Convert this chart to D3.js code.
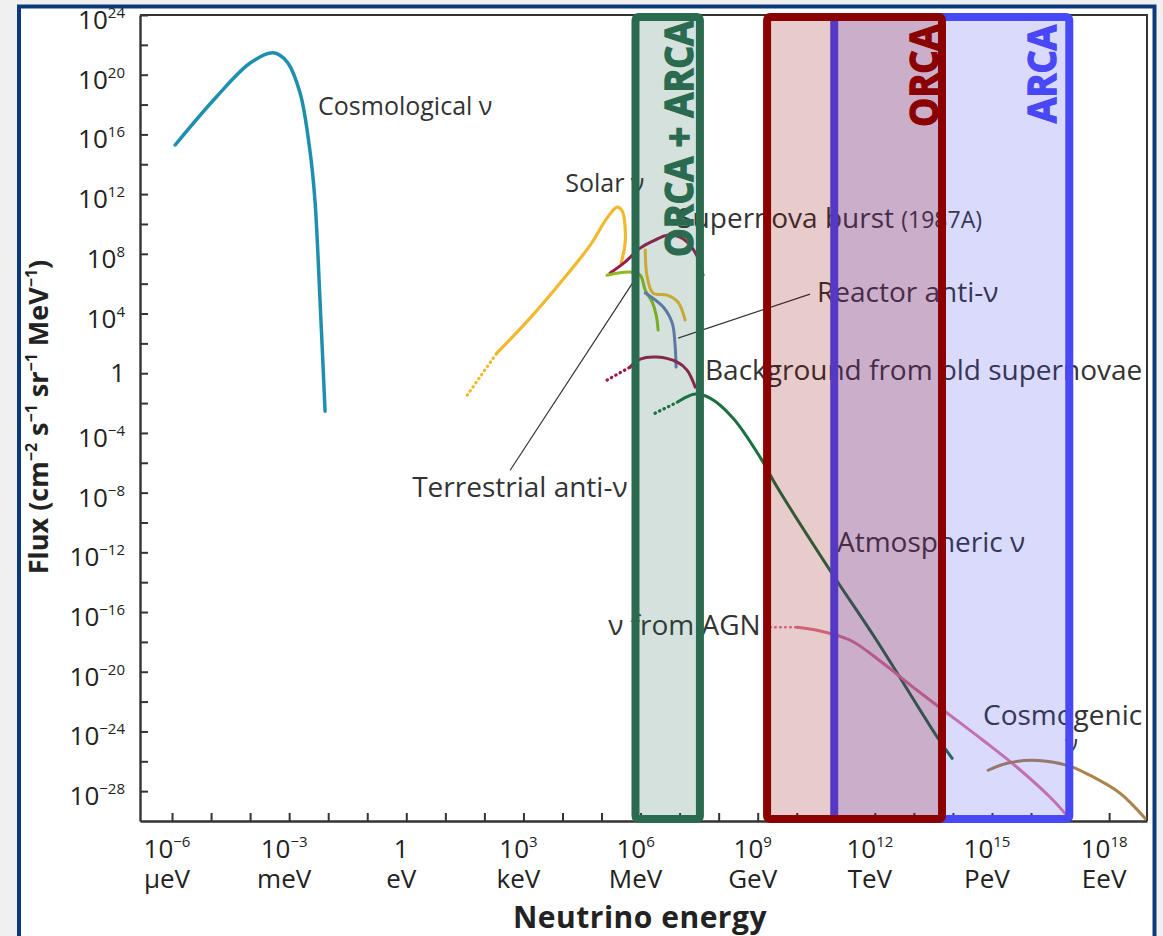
<!DOCTYPE html>
<html>
<head>
<meta charset="utf-8">
<script src="https://cdn.jsdelivr.net/npm/d3@7"></script>
<style>
  body { margin: 0; background: #f0f0f0; }
  svg { display: block; }
  text { font-family: "Open Sans", sans-serif; }
</style>
</head>
<body>
<div id="chart"></div>
<script>
// page size and plot frame
const width = 1163;
const height = 936;
const margin = {left: 140, right: 16, top: 15, bottom: 115};

// axes, everything in log10 (energy in eV, flux in cm-2 s-1 sr-1 MeV-1)
const xDomainExp = [-6.82, 18.97];
const yDomainExp = [-30, 24];
const xTickExps = d3.range(-6, 19);
const xLabelExps = [-6, -3, 0, 3, 6, 9, 12, 15, 18];
const xUnits = ["μeV", "meV", "eV", "keV", "MeV", "GeV", "TeV", "PeV", "EeV"];
const yTickExps = d3.range(-28, 25, 2);
const yLabelExps = d3.range(24, -29, -4);

// curves: [log10 E, log10 flux]
const cosmological = [[-5.92,15.29],[-4.86,18.52],[-4.0,20.78],[-3.41,21.47],[-3.05,20.85],[-2.72,18.77],[-2.47,14.95],[-2.34,11.60],[-2.21,4.90],[-2.08,-2.54]];
const solarDotted = [[1.56,-1.47],[2.32,1.35]];
const solar = [[2.32,1.35],[3.17,3.69],[3.94,6.04],[4.71,8.58],[5.14,10.39],[5.40,11.13],[5.53,10.87],[5.60,9.93],[5.60,8.58],[5.50,7.38]];
const solarHigh = [[6.12,8.25],[6.17,6.44],[6.32,5.37],[6.68,5.23],[6.96,4.76],[7.14,3.56]];
const supernova = [[5.22,6.71],[5.60,7.44],[5.99,8.38],[6.37,8.92],[6.68,9.25],[7.01,9.12],[7.27,8.58],[7.47,7.71],[7.60,6.57]];
const terrestrial = [[5.14,6.57],[5.73,6.78],[5.99,6.57],[6.12,5.57],[6.30,4.76],[6.40,3.89],[6.45,2.89]];
const reactor = [[6.12,5.37],[6.58,4.43],[6.81,3.36],[6.88,2.02],[6.91,0.41]];
const backgroundDotted = [[5.14,-0.46],[5.73,0.41]];
const background = [[5.73,0.41],[5.99,0.94],[6.42,1.08],[6.94,0.74],[7.19,0.21],[7.40,-0.93]];
const atmosphericDotted = [[6.37,-2.68],[6.94,-1.94]];
const atmospheric = [[6.94,-1.94],[7.17,-1.60],[7.40,-1.40],[7.78,-1.67],[8.37,-3.01],[9.06,-5.62],[9.50,-7.64],[10.85,-13.20],[12.06,-17.96],[13.60,-24.39],[13.98,-25.80]];
const agnDotted = [[9.32,-17.02],[10.01,-17.02]];
const agn = [[10.01,-17.02],[10.52,-17.22],[11.37,-17.89],[12.21,-19.43],[13.08,-21.24],[13.93,-22.92],[14.77,-24.59],[15.64,-26.40],[16.49,-28.41],[16.87,-29.49]];
const cosmogenic = [[14.90,-26.60],[15.39,-26.13],[16.05,-25.93],[16.93,-26.27],[17.51,-26.94],[18.28,-28.14],[18.92,-29.82]];

// text labels: [text, log10 E, log10 flux]
const labels = [
  ["Cosmological ν", -2.26, 17.30],
  ["Solar ν", 4.07, 12.16],
  ["Reactor anti-ν", 10.52, 4.76],
  ["Background from old supernovae", 7.65, -0.46],
  ["Terrestrial anti-ν", 0.15, -8.31],
  ["Atmospheric ν", 11.03, -11.99],
  ["ν from AGN", 5.17, -17.55],
  ["Cosmogenic", 14.77, -23.59],
  ["ν", 16.87, -25.35]
];
const leaders = [
  [[2.66,-6.50],[5.81,6.10]],
  [[6.96,2.35],[10.34,5.30]]
];

// detector ranges, log10 E
const orcaArca = [5.87, 7.52];
const orca = [9.24, 13.72];
const arca = [10.96, 16.98];

const svg = d3.select("#chart")
  .append("svg")
  .attr("width", width)
  .attr("height", height);

// blue outer frame
svg.append("rect")
  .attr("x", 19).attr("y", 6.5)
  .attr("width", 1135.5).attr("height", 980)
  .attr("fill", "white")
  .attr("stroke", "#0b3a7c")
  .attr("stroke-width", 4);

const x = d3.scaleLog()
  .domain(xDomainExp.map(e => 10 ** e))
  .range([margin.left, width - margin.right]);
const y = d3.scaleLog()
  .domain(yDomainExp.map(e => 10 ** e))
  .range([height - margin.bottom, margin.top]);

const px = e => x(10 ** e);
const py = e => y(10 ** e);

const line = d3.line()
  .x(d => px(d[0]))
  .y(d => py(d[1]))
  .curve(d3.curveCatmullRom.alpha(0.5));

// plot frame top / right
svg.append("path")
  .attr("d", `M${margin.left},${margin.top}H${width - margin.right}V${height - margin.bottom}`)
  .attr("fill", "none")
  .attr("stroke", "#333")
  .attr("stroke-width", 2);

// axes with inward ticks
const xAxis = svg.append("g")
  .attr("transform", `translate(0,${height - margin.bottom})`)
  .call(d3.axisBottom(x)
    .tickValues(xTickExps.map(e => 10 ** e))
    .tickSize(-8).tickSizeOuter(0).tickFormat(""));
const yAxis = svg.append("g")
  .attr("transform", `translate(${margin.left},0)`)
  .call(d3.axisLeft(y)
    .tickValues(yTickExps.map(e => 10 ** e))
    .tickSize(-8).tickSizeOuter(0).tickFormat(""));
[xAxis, yAxis].forEach(g => {
  g.select(".domain").attr("stroke", "#333").attr("stroke-width", 2.4);
  g.selectAll(".tick line").attr("stroke", "#333").attr("stroke-width", 2);
});

// y tick labels
const expText = e => (e < 0 ? "\u2212" + (-e) : "" + e);
yLabelExps.forEach(e => {
  const t = svg.append("text")
    .attr("x", 125)
    .attr("y", py(e) + (e === 0 ? 9 : 14))
    .attr("text-anchor", "end")
    .attr("fill", "#222");
  if (e === 0) {
    t.append("tspan").attr("font-size", 26).text("1");
  } else {
    t.append("tspan").attr("font-size", 26).text("10");
    t.append("tspan").attr("font-size", 15).attr("dy", -11).text(expText(e));
  }
});

// x tick labels
xLabelExps.forEach((e, i) => {
  const cx = px(e) - 5;
  const t = svg.append("text")
    .attr("x", cx).attr("y", 858)
    .attr("text-anchor", "middle")
    .attr("fill", "#222");
  if (e === 0) {
    t.append("tspan").attr("font-size", 26).text("1");
  } else {
    t.append("tspan").attr("font-size", 26).text("10");
    t.append("tspan").attr("font-size", 15).attr("dy", -11).text(expText(e));
  }
  svg.append("text")
    .attr("x", cx).attr("y", 888)
    .attr("text-anchor", "middle")
    .attr("font-size", 26)
    .attr("fill", "#222")
    .text(xUnits[i]);
});

// axis titles
svg.append("text")
  .attr("x", 640).attr("y", 928)
  .attr("text-anchor", "middle")
  .attr("font-size", 30).attr("font-weight", "bold")
  .attr("letter-spacing", 0.5)
  .attr("fill", "#222")
  .text("Neutrino energy");

const yTitle = svg.append("text")
  .attr("transform", "translate(48,417) rotate(-90)")
  .attr("text-anchor", "middle")
  .attr("font-size", 27).attr("font-weight", "bold")
  .attr("fill", "#222");
[["Flux (cm", 0], ["\u22122", 1], [" s", 0], ["\u22121", 1], [" sr", 0], ["\u22121", 1], [" MeV", 0], ["\u22121", 1], [")", 0]]
  .forEach(([s, sup], i, arr) => {
    const prevSup = i > 0 ? arr[i - 1][1] : 0;
    yTitle.append("tspan")
      .attr("font-size", sup ? 16 : 27)
      .attr("dy", sup ? -11 : (prevSup ? 11 : 0))
      .text(s);
  });

// curves
const series = [
  {pts: cosmological, color: "#1f8fb0", w: 3.5},
  {pts: solarDotted, color: "#f0b92e", w: 3.2, dotted: true},
  {pts: solar, color: "#f0b92e", w: 3.2},
  {pts: supernova, color: "#9c1a4a", w: 3},
  {pts: terrestrial, color: "#8cbc1e", w: 3},
  {pts: solarHigh, color: "#f0b92e", w: 3},
  {pts: reactor, color: "#6a7cb8", w: 3},
  {pts: backgroundDotted, color: "#9c1a4a", w: 3.2, dotted: true},
  {pts: background, color: "#9c1a4a", w: 3},
  {pts: atmosphericDotted, color: "#1b7042", w: 3.2, dotted: true},
  {pts: atmospheric, color: "#1b7042", w: 3},
  {pts: agnDotted, color: "#e27c9c", w: 2.6, dotted: true},
  {pts: agn, color: "#e27c9c", w: 3},
  {pts: cosmogenic, color: "#aa844c", w: 3}
];
svg.append("g")
  .selectAll("path")
  .data(series)
  .enter()
  .append("path")
    .attr("d", d => line(d.pts))
    .attr("fill", "none")
    .attr("stroke", d => d.color)
    .attr("stroke-width", d => d.w)
    .attr("stroke-linecap", "round")
    .attr("stroke-dasharray", d => d.dotted ? "0.5,4.5" : null);

// leader lines
svg.append("g")
  .selectAll("line")
  .data(leaders)
  .enter()
  .append("line")
    .attr("x1", d => px(d[0][0])).attr("y1", d => py(d[0][1]))
    .attr("x2", d => px(d[1][0])).attr("y2", d => py(d[1][1]))
    .attr("stroke", "#333")
    .attr("stroke-width", 1.2);

// curve labels (the two at the left are set a bit smaller in the original)
const smallLabels = ["Cosmological ν", "Solar ν"];
svg.append("g")
  .selectAll("text")
  .data(labels)
  .enter()
  .append("text")
    .attr("x", d => px(d[1]))
    .attr("y", d => py(d[2]))
    .attr("font-size", d => smallLabels.includes(d[0]) ? 25 : (d[0] === "ν" ? 24 : 28))
    .attr("fill", "#333")
    .text(d => d[0]);

const sn = svg.append("text")
  .attr("x", px(6.94)).attr("y", py(9.72))
  .attr("font-size", 28)
  .attr("fill", "#333");
sn.append("tspan").text("Supernova burst ");
sn.append("tspan").attr("font-size", 23).text("(1987A)");

// detector boxes, blue first so the red one lies over it
const boxes = [
  {range: arca, name: "ARCA", color: "#4848f6", dx: -13, len: 98},
  {range: orca, name: "ORCA", color: "#8b0000", dx: -4.5, len: 102},
  {range: orcaArca, name: "ORCA + ARCA", color: "#2a6b50", dx: -6.5, len: 236}
];
const boxTop = margin.top + 2;
const boxBottom = height - margin.bottom - 2;
boxes.forEach(b => {
  svg.append("rect")
    .attr("x", px(b.range[0]))
    .attr("y", boxTop)
    .attr("width", px(b.range[1]) - px(b.range[0]))
    .attr("height", boxBottom - boxTop)
    .attr("rx", 3)
    .attr("fill", b.color)
    .attr("fill-opacity", 0.2)
    .attr("stroke", b.color)
    .attr("stroke-width", 8);
});
boxes.forEach(b => {
  svg.append("text")
    .attr("transform", `translate(${px(b.range[1]) + b.dx},${b.name === "ORCA + ARCA" ? 21 : 25}) rotate(-90)`)
    .attr("text-anchor", "end")
    .attr("font-family", "Liberation Sans, Arial, sans-serif")
    .attr("font-weight", "bold")
    .attr("font-size", 40)
    .attr("textLength", b.len)
    .attr("lengthAdjust", "spacingAndGlyphs")
    .attr("fill", b.color)
    .attr("stroke", b.color)
    .attr("stroke-width", 1.4)
    .text(b.name);
});
</script>
</body>
</html>
